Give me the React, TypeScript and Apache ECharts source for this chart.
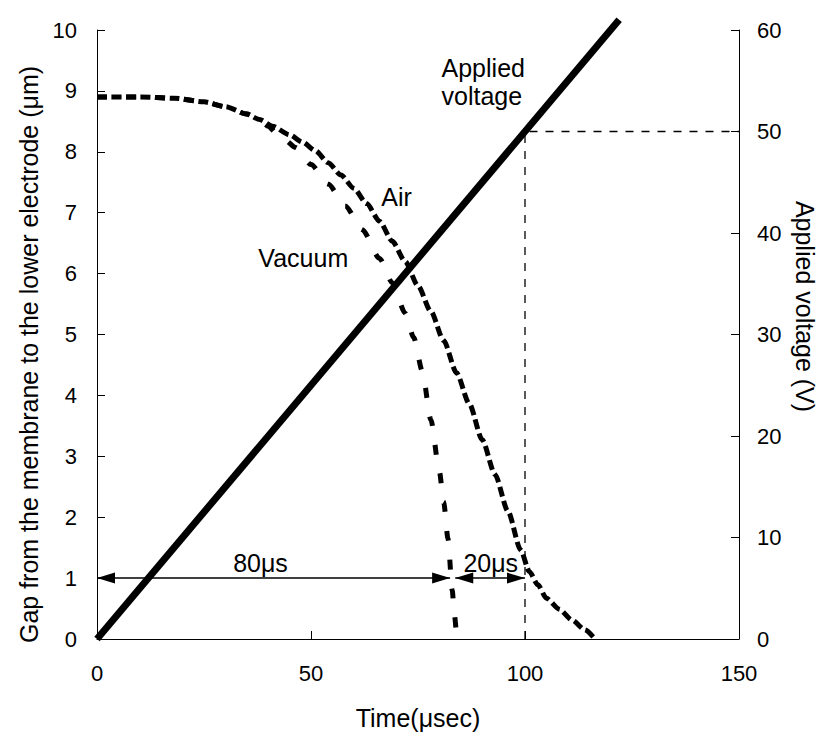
import { useEffect, useRef } from "react";
import * as echarts from "echarts";

const FONT = '"Liberation Sans", Arial, Helvetica, sans-serif';

// Axis ranges
const timeMin = 0;
const timeMax = 150;
const timeStep = 50;
const gapMin = 0;
const gapMax = 10;
const gapStep = 1;
const voltMin = 0;
const voltMax = 60;
const voltStep = 10;

// Applied voltage (V) vs time (µs)
const voltageTime = [0, 122];
const voltageValues = [0, 61];

// Gap (µm) vs time, in air
const airTime = [0, 10, 18, 25, 30, 35, 38, 41, 45, 48, 51, 54, 57, 60, 63, 66, 69, 72, 75, 78, 81, 84, 87, 90, 93, 96, 99, 101, 103, 105, 108, 111, 114, 116];
const airGap = [8.9, 8.9, 8.88, 8.82, 8.74, 8.62, 8.53, 8.42, 8.28, 8.16, 8.02, 7.82, 7.62, 7.4, 7.15, 6.86, 6.53, 6.2, 5.8, 5.38, 4.9, 4.37, 3.86, 3.27, 2.7, 2.1, 1.46, 1.11, 0.89, 0.67, 0.49, 0.31, 0.15, 0.03];

// Gap (µm) vs time, in vacuum
const vacuumTime = [0, 10, 18, 25, 30, 35, 38, 40, 42, 44, 46.4, 50, 54, 58, 62, 66, 69, 72, 74, 76, 78, 80, 81, 82, 83, 83.5, 84];
const vacuumGap = [8.9, 8.9, 8.88, 8.82, 8.74, 8.62, 8.53, 8.42, 8.3, 8.19, 8.07, 7.79, 7.47, 7.11, 6.72, 6.25, 5.85, 5.35, 4.95, 4.4, 3.6, 2.75, 2.25, 1.65, 0.8, 0.4, 0.05];

// Reference guide (t = 100 µs, V = 50 V)
const guideTime = [100, 100, 150];
const guideVoltage = [0, 50, 50];

// Time-interval arrows at gap = 1 µm
const arrowGap = 1;
const arrow80Time = [0, 82.5];
const arrow20Time = [83.7, 100];

// Annotation texts
const annotationText = ["80μs", "20μs", "Vacuum", "Air", "Applied\nvoltage"];
const annotationTime = [38.2, 92, 48.2, 70, 80.5];
const annotationGap = [1.24, 1.25, 6.26, 7.25, 9.14];

const zip = (xs: number[], ys: number[]) => xs.map((x, i) => [x, ys[i]]);

export default function App() {
  const ref = useRef<HTMLDivElement>(null);

  useEffect(() => {
    if (!ref.current) return;
    const chart = echarts.init(ref.current, null, { renderer: "svg" });

    const axisLine = { show: true, lineStyle: { color: "#000", width: 1 } };
    const axisTick = { show: true, inside: true, length: 8, lineStyle: { color: "#000", width: 1 } };
    const tickLabel = { color: "#000", fontSize: 22, fontFamily: FONT };
    const nameStyle = { color: "#000", fontSize: 25, fontFamily: FONT };
    const shaftStyle = { color: "#000", width: 1.5, type: "solid" };

    const option: any = {
      animation: false,
      backgroundColor: "#ffffff",
      grid: { left: 97, right: 94, top: 30, bottom: 98, outerBoundsMode: "none" },
      xAxis: {
        type: "value",
        min: timeMin,
        max: timeMax,
        interval: timeStep,
        name: "Time(μsec)",
        nameLocation: "middle",
        nameGap: 66,
        nameTextStyle: nameStyle,
        axisLine,
        axisTick,
        axisLabel: { ...tickLabel, margin: 23 },
        splitLine: { show: false },
      },
      yAxis: [
        {
          type: "value",
          min: gapMin,
          max: gapMax,
          interval: gapStep,
          position: "left",
          name: "Gap from the membrane to the lower electrode (μm)",
          nameLocation: "middle",
          nameGap: 50,
          nameTextStyle: { ...nameStyle, padding: [0, 40, 0, 0] },
          axisLine,
          axisTick,
          axisLabel: { ...tickLabel, margin: 20 },
          splitLine: { show: false },
        },
        {
          type: "value",
          min: voltMin,
          max: voltMax,
          interval: voltStep,
          position: "right",
          name: "Applied voltage (V)",
          nameLocation: "middle",
          nameRotate: -90,
          nameGap: 52,
          nameTextStyle: { ...nameStyle, padding: [0, 56, 0, 0] },
          axisLine,
          axisTick,
          axisLabel: { ...tickLabel, margin: 18 },
          splitLine: { show: false },
        },
      ],
      series: [
        {
          name: "Guide",
          type: "line",
          yAxisIndex: 1,
          data: zip(guideTime, guideVoltage),
          showSymbol: false,
          symbol: "none",
          silent: true,
          lineStyle: { color: "#000", width: 1.3, type: [8, 8] },
        },
        {
          name: "Arrow 80",
          type: "line",
          yAxisIndex: 0,
          data: arrow80Time.map((t) => [t, arrowGap]),
          showSymbol: false,
          symbol: "none",
          silent: true,
          lineStyle: shaftStyle,
        },
        {
          name: "Arrow 20",
          type: "line",
          yAxisIndex: 0,
          data: arrow20Time.map((t) => [t, arrowGap]),
          showSymbol: false,
          symbol: "none",
          silent: true,
          lineStyle: shaftStyle,
        },
        {
          name: "Vacuum",
          type: "line",
          yAxisIndex: 0,
          data: zip(vacuumTime, vacuumGap),
          showSymbol: false,
          symbol: "none",
          smooth: 0.25,
          smoothMonotone: "x",
          lineStyle: { color: "#000", width: 5, type: [10, 19], cap: "butt" },
        },
        {
          name: "Air",
          type: "line",
          yAxisIndex: 0,
          data: zip(airTime, airGap),
          showSymbol: false,
          symbol: "none",
          smooth: 0.25,
          smoothMonotone: "x",
          lineStyle: { color: "#000", width: 5, type: [10, 4.5], cap: "butt" },
        },
        {
          name: "Applied voltage",
          type: "line",
          yAxisIndex: 1,
          data: zip(voltageTime, voltageValues),
          showSymbol: false,
          symbol: "none",
          clip: false,
          lineStyle: { color: "#000", width: 7, cap: "butt" },
        },
        {
          name: "Annotations",
          type: "line",
          yAxisIndex: 0,
          symbol: "circle",
          symbolSize: 1,
          showSymbol: true,
          silent: true,
          lineStyle: { opacity: 0, width: 0 },
          itemStyle: { opacity: 0 },
          data: annotationText.map((text, i) => ({
            value: [annotationTime[i], annotationGap[i]],
            text,
            label: i === 4 ? { align: "left", lineHeight: 28 } : undefined,
          })),
          label: {
            show: true,
            position: "inside",
            formatter: (p: any) => p.data.text,
            color: "#000",
            opacity: 1,
            textBorderWidth: 0,
            textBorderColor: "transparent",
            fontSize: 25,
            fontFamily: FONT,
          },
        },
      ],
    };

    chart.setOption(option);

    // Arrowheads (filled triangles) placed through the axes' scales
    const heads = [
      { t: arrow80Time[0], dir: -1 },
      { t: arrow80Time[1], dir: 1 },
      { t: arrow20Time[0], dir: -1 },
      { t: arrow20Time[1], dir: 1 },
    ];
    const L = 18;
    const W = 5.5;
    const graphic = heads.map((h) => {
      const [x, y] = chart.convertToPixel({ xAxisIndex: 0, yAxisIndex: 0 }, [h.t, arrowGap]) as number[];
      return {
        type: "polygon",
        silent: true,
        z: 10,
        shape: {
          points: [
            [x, y],
            [x - h.dir * L, y - W],
            [x - h.dir * L, y + W],
          ],
        },
        style: { fill: "#000" },
      };
    });
    chart.setOption({ graphic });

    return () => chart.dispose();
  }, []);

  return (
    <div
      ref={ref}
      style={{ position: "absolute", left: 0, top: 0, width: 833, height: 737 }}
    />
  );
}
